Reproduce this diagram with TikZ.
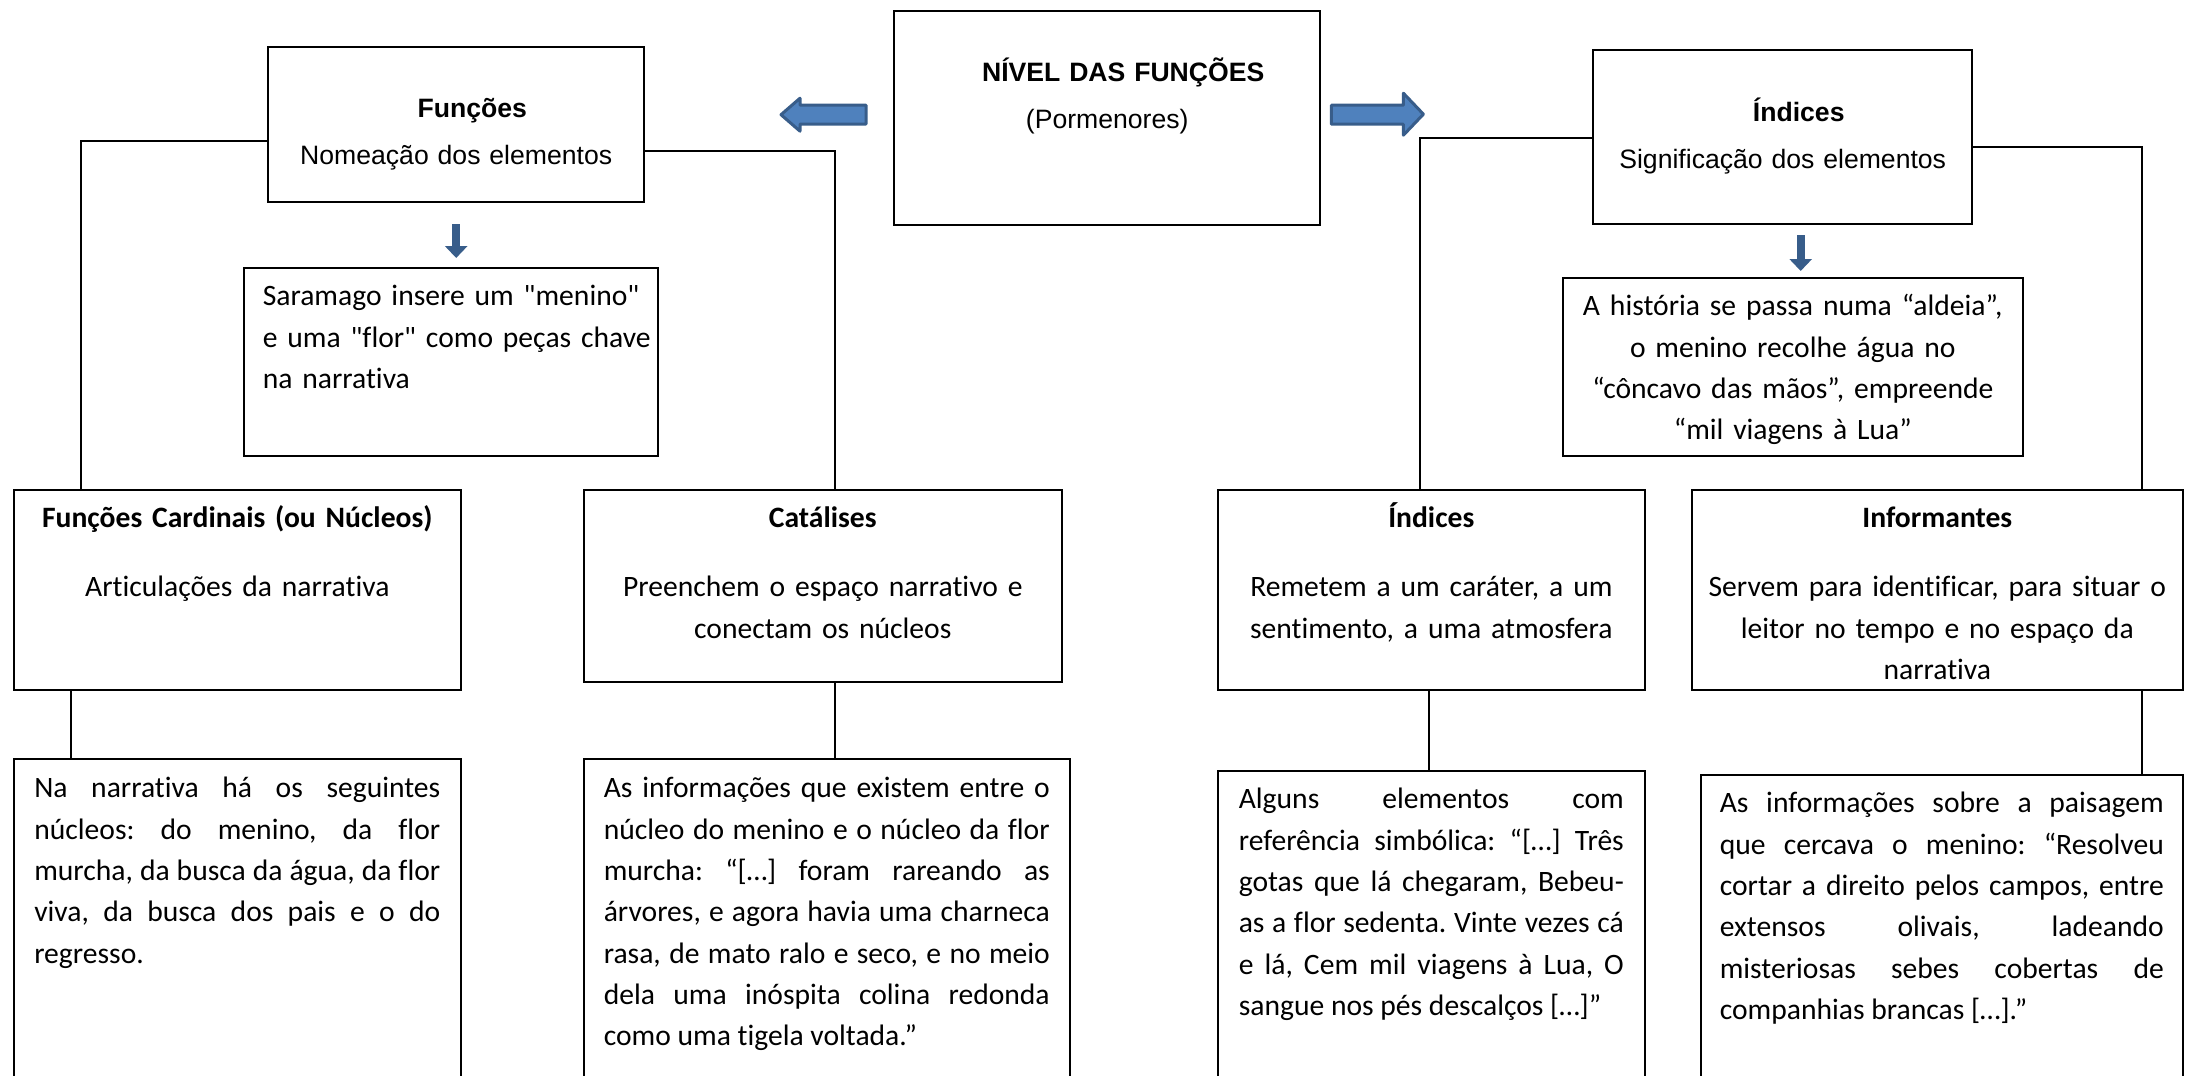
\documentclass[tikz,border=0pt]{standalone}
\usepackage{fontspec}
\setmainfont{Carlito}[Ligatures={TeXOff,CommonOff}]
\newfontfamily\arialf{Liberation Sans}[Ligatures={TeXOff,CommonOff}]
\usetikzlibrary{positioning,calc,arrows.meta}

\definecolor{officeblue}{HTML}{4F81BD}
\definecolor{officeline}{HTML}{385D8A}

\tikzset{
  topbox/.style={draw,line width=1.2pt,anchor=north west,inner ysep=0pt,
    align=center,font=\arialf\fontsize{13.3}{23.5}\selectfont},
  textbox/.style={draw,line width=0.8pt,anchor=north west,inner ysep=0pt,
    font=\fontsize{14.8}{20.65}\selectfont\frenchspacing},
  link/.style={draw,line width=1.2pt},
  pointer/.style={draw=officeline,line width=4pt,-{Triangle[width=11pt,length=6pt]}},
  blockarrow/.style={fill=officeblue,draw=officeline,line width=1.5pt,line join=round},
}

\begin{document}
\begin{tikzpicture}[x=0.5pt,y=-0.5pt]
  \useasboundingbox (0,0) rectangle (2186,1076);
  \clip (0,0) rectangle (2186,1076);
  % upper level
  \node[topbox,text width=195pt,inner xsep=9pt,text height=35pt,text depth=72pt]
    (nivel) at (893,10) {\hspace*{16pt}\textbf{NÍVEL DAS FUNÇÕES}\\(Pormenores)};
  \node[topbox,text width=170pt,inner xsep=9pt,text height=35pt,text depth=42.5pt]
    (funcoes) at (267,46) {\hspace*{16pt}\textbf{Funções}\\Nomeação dos elementos};
  \node[topbox,text width=171.5pt,inner xsep=9pt,text height=35.5pt,text depth=51.5pt]
    (indices) at (1592,49) {\hspace*{16pt}\textbf{Índices}\\Significação dos elementos};
  \node[textbox,align=left,text width=200pt,inner xsep=3.5pt,text height=19pt,text depth=75pt]
    (saramago) at (243,267)
    {\hspace*{6pt}Saramago insere um "menino"\\\hspace*{6pt}e uma "flor" como peças chave\\\hspace*{6pt}na narrativa};
  \node[textbox,align=center,text width=212pt,inner xsep=9pt,text height=19pt,text depth=70pt]
    (historia) at (1562,277)
    {A história se passa numa “aldeia”,\\o menino recolhe água no\\“côncavo das mãos”, empreende\\“mil viagens à Lua”};
  % middle level
  \begin{scope}[every node/.style={textbox,align=center,inner xsep=9pt,text height=19pt}]
    \node[text width=205.5pt,text depth=81pt] (cardinais) at (13,489)
      {\textbf{Funções Cardinais (ou Núcleos)}\\[13.85pt]Articulações da narrativa};
    \node[text width=221pt,text depth=77pt] (catalises) at (583,489)
      {\textbf{Catálises}\\[13.85pt]Preenchem o espaço narrativo e\\conectam os núcleos};
    \node[text width=195.5pt,text depth=81pt] (indices-low) at (1217,489)
      {\textbf{Índices}\\[13.85pt]Remetem a um caráter, a um\\sentimento, a uma atmosfera};
    \node[text width=229.5pt,inner xsep=8pt,text depth=81pt] (informantes) at (1691,489)
      {\textbf{Informantes}\\[13.85pt]Servem para identificar, para situar o\\leitor no tempo e no espaço da\\narrativa};
  \end{scope}
  % lower level
  \begin{scope}[every node/.style={textbox,align=justify,text height=19.5pt,text depth=200pt}]
    \node[text width=203pt,inner xsep=10.25pt] (narrativa) at (13,758)
      {Na narrativa há os seguintes\linebreak núcleos: do menino, da flor\linebreak
       murcha, da busca da água, da flor\linebreak viva, da busca dos pais e o do\linebreak regresso.};
    \node[text width=223pt,inner xsep=10pt] (informacoes) at (583,758)
      {As informações que existem entre o\linebreak núcleo do menino e o núcleo da flor\linebreak
       murcha: “[…] foram rareando as\linebreak árvores, e agora havia uma charneca\linebreak
       rasa, de mato ralo e seco, e no meio\linebreak dela uma inóspita colina redonda\linebreak
       como uma tigela voltada.”};
    \node[text width=192.5pt,inner xsep=10.5pt,text height=19pt] (alguns) at (1217,770)
      {Alguns elementos com\linebreak referência simbólica: “[…] Três\linebreak
       gotas que lá chegaram, Bebeu-\linebreak as a flor sedenta. Vinte vezes cá\linebreak
       e lá, Cem mil viagens à Lua, O\linebreak sangue nos pés descalços […]”};
    \node[text width=222pt,inner xsep=9.5pt,text height=19pt] (sobre) at (1700,774)
      {As informações sobre a paisagem\linebreak que cercava o menino: “Resolveu\linebreak
       cortar a direito pelos campos, entre\linebreak extensos olivais, ladeando\linebreak
       misteriosas sebes cobertas de\linebreak companhias brancas […].”};
  \end{scope}
  % connectors
  \draw[link] ($(funcoes.north west)+(0,95)$) -| ($(cardinais.north west)+(68,0)$);
  \draw[link] ($(funcoes.north east)+(0,105)$) -| ($(catalises.north west)+(252,0)$);
  \draw[link] ($(indices.north west)+(0,89)$) -| ($(indices-low.north west)+(203,0)$);
  \draw[link] ($(indices.north east)+(0,98)$) -| ($(informantes.north west)+(451,0)$);
  \draw[link] ($(cardinais.south west)+(58,0)$) -- ($(narrativa.north west)+(58,0)$);
  \draw[link] ($(catalises.south west)+(252,0)$) -- ($(informacoes.north west)+(252,0)$);
  \draw[link] ($(indices-low.south west)+(212,0)$) -- ($(alguns.north west)+(212,0)$);
  \draw[link] ($(informantes.south west)+(451,0)$) -- ($(sobre.north west)+(442,0)$);
  % arrows
  \filldraw[blockarrow] ($(nivel.west)+(-27,-13)$) -- ++(-66,0) -- ++(0,-7)
    -- ++(-19,16.5) -- ++(19,16.5) -- ++(0,-7) -- ++(66,0) -- cycle;
  \filldraw[blockarrow] ($(nivel.east)+(10,-13)$) -- ++(72,0) -- ++(0,-12)
    -- ++(20,21) -- ++(-20,21) -- ++(0,-11) -- ++(-72,0) -- cycle;
  \draw[pointer,shorten <=10.5pt,shorten >=4.5pt] (funcoes.south) -- (funcoes.south |- saramago.north);
  \coordinate (drop) at ($(indices.south)+(18,0)$);
  \draw[pointer,shorten <=5pt,shorten >=3pt] (drop) -- (drop |- historia.north);
\end{tikzpicture}
\end{document}
